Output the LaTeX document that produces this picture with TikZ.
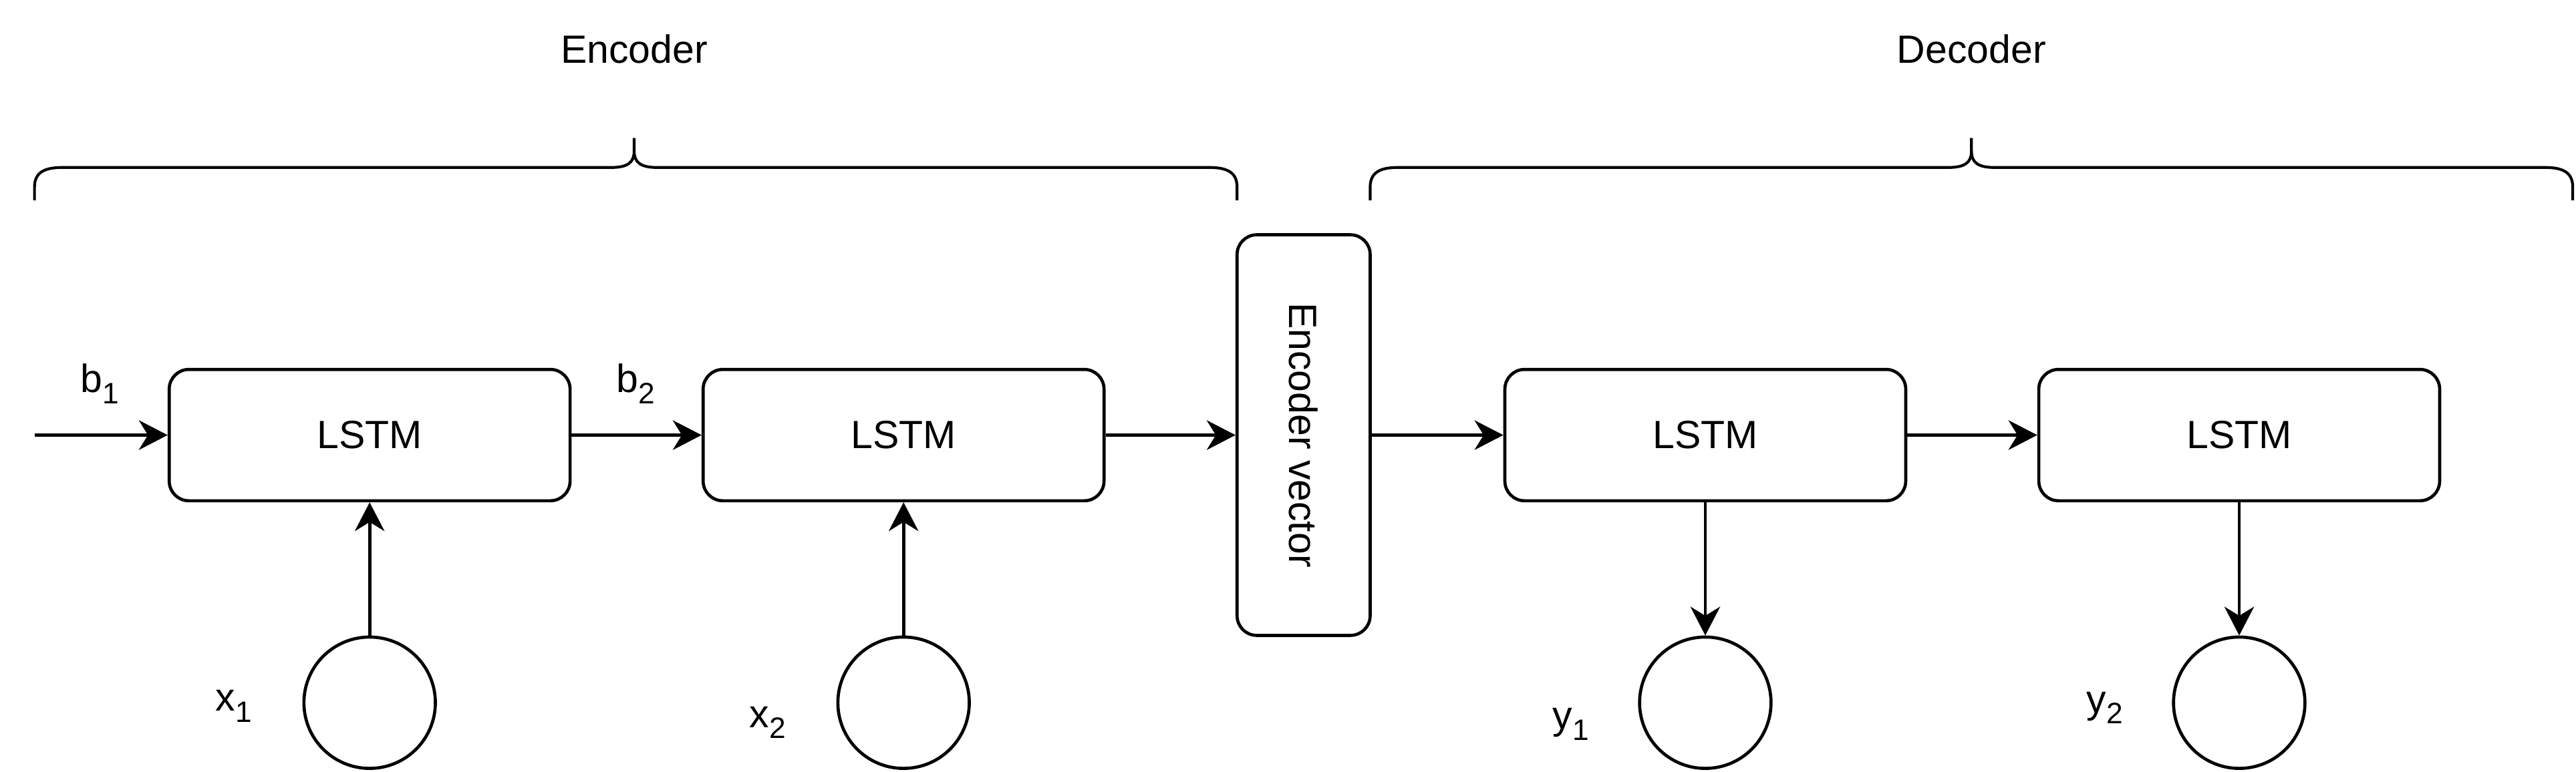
\documentclass[tikz,border=0pt]{standalone}
\usepackage{fontspec}
\setmainfont{Liberation Sans}
\usetikzlibrary{arrows.meta}
\newcommand{\sbs}[1]{{\fontsize{18}{18}\selectfont\raisebox{-6.8pt}{#1}}}
\begin{document}
\begin{tikzpicture}[x=1pt,y=-1pt,
  lw/.style={line width=1.9pt},
  txt/.style={font=\fontsize{24}{28}\selectfont, inner sep=0pt},
  cell/.style={draw, lw, rounded corners=12pt, minimum width=244pt, minimum height=80pt, txt},
  evbox/.style={draw, lw, rounded corners=12pt, minimum width=81pt, minimum height=244pt, txt},
  io/.style={draw, lw, circle, minimum size=80pt, inner sep=0pt},
  lab/.style={txt, anchor=base west},
  arr/.style={lw, -{Stealth[length=17.5pt,width=18pt,inset=5.5pt]}},
  brace/.style={line width=1.7pt, line join=round}
]
\useasboundingbox (0,0) rectangle (1568,470);

% titles
\node[txt] (enc) at (386,30) {Encoder};
\node[txt] (dec) at (1200,30) {Decoder};

% braces
\draw[brace] (21,122) -- (21,114) .. controls (21,105) and (27,102) .. (38,102) -- (372,102)
  .. controls (382,102) and (386,99) .. (386,92) -- (386,84);
\draw[brace] (386,92) .. controls (386,99) and (390,102) .. (400,102) -- (736,102)
  .. controls (747,102) and (753,105) .. (753,114) -- (753,122);
\draw[brace] (834,122) -- (834,114) .. controls (834,105) and (840,102) .. (851,102) -- (1186,102)
  .. controls (1196,102) and (1200,99) .. (1200,92) -- (1200,84);
\draw[brace] (1200,92) .. controls (1200,99) and (1204,102) .. (1214,102) -- (1549,102)
  .. controls (1560,102) and (1566,105) .. (1566,114) -- (1566,122);

% cells
\node[cell] (l1) at (225,265) {LSTM};
\node[cell] (l2) at (550,265) {LSTM};
\node[evbox] (ev) at (793.5,265) {\rotatebox{-90}{Encoder vector}};
\node[cell] (l3) at (1038,265) {LSTM};
\node[cell] (l4) at (1363,265) {LSTM};

% inputs / outputs
\node[io] (x1) at (225,428) {};
\node[io] (x2) at (550,428) {};
\node[io] (y1) at (1038,428) {};
\node[io] (y2) at (1363,428) {};

% labels
\node[lab] (lb1) at (49,239) {b\sbs{1}};
\node[lab] (lb2) at (375,239) {b\sbs{2}};
\node[lab] (lx1) at (131,433) {x\sbs{1}};
\node[lab] (lx2) at (456,443) {x\sbs{2}};
\node[lab] (ly1) at (945,444) {y\sbs{1}};
\node[lab] (ly2) at (1270,434) {y\sbs{2}};

% connectors
\coordinate (start) at (21,265);
\draw[arr] (start) -- (l1.west);
\draw[arr] (l1.east) -- (l2.west);
\draw[arr] (l2.east) -- (ev.west);
\draw[arr] (ev.east) -- (l3.west);
\draw[arr] (l3.east) -- (l4.west);
\draw[arr] (x1.north) -- (l1.south);
\draw[arr] (x2.north) -- (l2.south);
\draw[arr] (l3.south) -- (y1.north);
\draw[arr] (l4.south) -- (y2.north);
\end{tikzpicture}
\end{document}
